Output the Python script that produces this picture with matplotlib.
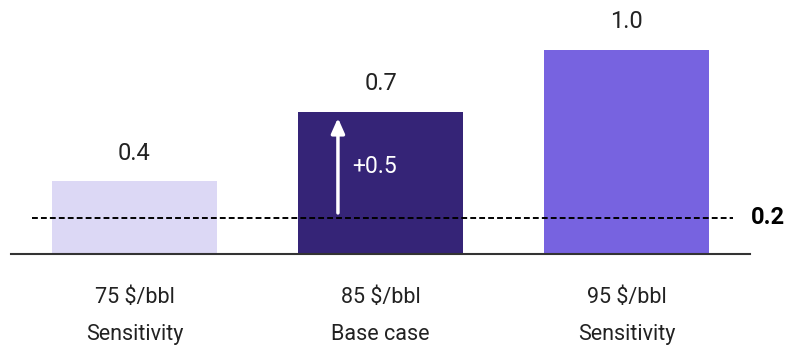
import matplotlib
matplotlib.use("Agg")
import matplotlib.pyplot as plt

# Data
price_labels = ["75 $/bbl", "85 $/bbl", "95 $/bbl"]
case_labels = ["Sensitivity", "Base case", "Sensitivity"]
bar_heights = [0.40, 0.78, 1.12]          # drawn heights
value_labels = ["0.4", "0.7", "1.0"]
reference_value = 0.2
reference_label = "0.2"
delta_label = "+0.5"
arrow_start, arrow_end = 0.225, 0.745

colors = ["#DCD8F5", "#352477", "#7763E0"]

plt.rcParams['font.family'] = ['Roboto', 'DejaVu Sans']

fig = plt.figure(figsize=(7.91, 3.47), dpi=100)
ax = fig.add_axes([11/791, (347-254)/347, 739/791, 254/347])

x = list(range(len(bar_heights)))
ax.bar(x, bar_heights, width=0.671, color=colors, zorder=2)

ax.set_xlim(-0.502, 2.502)
ax.set_ylim(0, 1.392)

for xi, h, lab in zip(x, bar_heights, value_labels):
    ax.annotate(lab, (xi, h), xytext=(0, 20), textcoords="offset points",
                ha="center", va="center", fontsize=17, color="#222222")

# reference line
ax.plot([-0.417, 2.433], [reference_value, reference_value], color="black",
        lw=1.4, ls=(0, (3, 1.6)), zorder=3)
ax.text(2.505, reference_value, reference_label, transform=ax.transData,
        ha="left", va="center", fontsize=17, fontweight="bold", color="black",
        clip_on=False)

# arrow on base case
ax.annotate("", xy=(0.827, arrow_end), xytext=(0.827, arrow_start),
            arrowprops=dict(arrowstyle="-|>,head_length=0.9,head_width=0.4",
                            color="white", lw=2.5, shrinkA=0, shrinkB=0),
            zorder=4)
ax.text(0.884, 0.477, delta_label, ha="left", va="center", fontsize=16.5,
        color="white", zorder=5)

# category labels
for xi, p, c in zip(x, price_labels, case_labels):
    ax.text(xi, -0.24, p, ha="center", va="center", fontsize=15.5, color="#222222")
    ax.text(xi, -0.44, c, ha="center", va="center", fontsize=15.5, color="#222222")

for s in ["top", "right", "left"]:
    ax.spines[s].set_visible(False)
ax.spines["bottom"].set_color("#333333")
ax.spines["bottom"].set_linewidth(1.5)
ax.set_xticks([])
ax.set_yticks([])

fig.savefig("out.png", dpi=100)
